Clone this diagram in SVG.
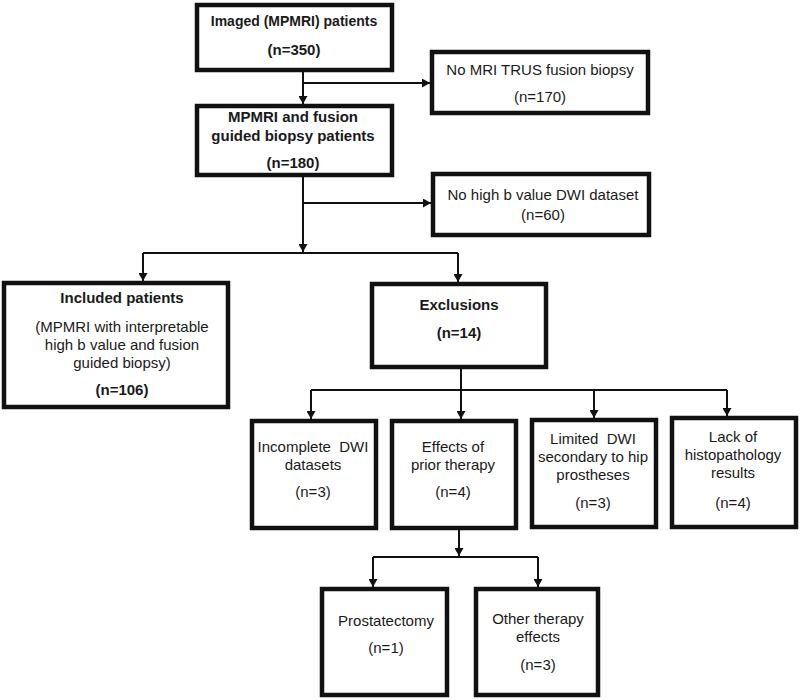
<svg xmlns="http://www.w3.org/2000/svg" width="800" height="700" viewBox="0 0 800 700">
<defs>
<marker id="arr" markerUnits="userSpaceOnUse" markerWidth="9" markerHeight="9" refX="8" refY="4.5" orient="auto">
<path d="M0,0 L8,4.5 L0,9 z" fill="#111"/>
</marker>
<style>
.box{fill:#fff;stroke:#111;stroke-width:4.5}
.c{fill:none;stroke:#111;stroke-width:2}
.a{fill:none;stroke:#111;stroke-width:2;marker-end:url(#arr)}
text{font-family:"Liberation Sans",Arial,sans-serif;font-size:15px;fill:#1a1a1a;text-anchor:middle}
.b{font-weight:bold}
</style>
</defs>
<rect width="800" height="700" fill="#fff"/>
<g id="connectors">
<line class="a" x1="303" y1="70" x2="303" y2="104"/>
<line class="a" x1="303" y1="83" x2="430" y2="83"/>
<line class="a" x1="303" y1="175" x2="303" y2="252"/>
<line class="a" x1="303" y1="203" x2="431" y2="203"/>
<polyline class="c" points="143,253 458,253"/>
<line class="a" x1="143" y1="253" x2="143" y2="281"/>
<line class="a" x1="458" y1="253" x2="458" y2="282"/>
<line class="a" x1="461" y1="367" x2="461" y2="419"/>
<polyline class="c" points="311,390 727,390"/>
<line class="a" x1="311" y1="390" x2="311" y2="419"/>
<line class="a" x1="594" y1="390" x2="594" y2="418"/>
<line class="a" x1="727" y1="390" x2="727" y2="416"/>
<line class="a" x1="459" y1="528" x2="459" y2="556"/>
<polyline class="c" points="373,557 538,557"/>
<line class="a" x1="373" y1="557" x2="373" y2="587"/>
<line class="a" x1="538" y1="557" x2="538" y2="587"/>
</g>
<g id="imaged">
<rect class="box" x="197" y="5" width="195" height="65"/>
<text class="b" x="294" y="26" style="font-size:14px">Imaged (MPMRI) patients</text>
<text class="b" x="294" y="55">(n=350)</text>
</g>
<g id="fusion">
<rect class="box" x="197" y="106" width="195" height="69"/>
<text class="b" x="293" y="122">MPMRI and fusion</text>
<text class="b" x="293" y="141">guided biopsy patients</text>
<text class="b" x="293" y="168">(n=180)</text>
</g>
<g id="nomri">
<rect class="box" x="432" y="52" width="216" height="61"/>
<text x="540" y="75">No MRI TRUS fusion biopsy</text>
<text x="540" y="102">(n=170)</text>
</g>
<g id="nohighb">
<rect class="box" x="433" y="174" width="216" height="61"/>
<text x="543" y="200">No high b value DWI dataset</text>
<text x="543" y="220">(n=60)</text>
</g>
<g id="included">
<rect class="box" x="4" y="283" width="224" height="124"/>
<text class="b" x="122" y="303">Included patients</text>
<text x="122" y="332">(MPMRI with interpretable</text>
<text x="122" y="350">high b value and fusion</text>
<text x="122" y="368">guided biopsy)</text>
<text class="b" x="122" y="395">(n=106)</text>
</g>
<g id="exclusions">
<rect class="box" x="372" y="284" width="174" height="83"/>
<text class="b" x="459" y="310">Exclusions</text>
<text class="b" x="459" y="338">(n=14)</text>
</g>
<g id="incomplete">
<rect class="box" x="252" y="421" width="124" height="107"/>
<text x="313" y="452" xml:space="preserve">Incomplete  DWI</text>
<text x="313" y="470">datasets</text>
<text x="313" y="497">(n=3)</text>
</g>
<g id="effects">
<rect class="box" x="392" y="421" width="124" height="107"/>
<text x="453" y="452">Effects of</text>
<text x="453" y="470">prior therapy</text>
<text x="453" y="497">(n=4)</text>
</g>
<g id="limited">
<rect class="box" x="532" y="420" width="124" height="107"/>
<text x="593" y="444" xml:space="preserve">Limited  DWI</text>
<text x="593" y="462">secondary to hip</text>
<text x="593" y="480">prostheses</text>
<text x="593" y="508">(n=3)</text>
</g>
<g id="lack">
<rect class="box" x="672" y="418" width="124" height="109"/>
<text x="733" y="442">Lack of</text>
<text x="733" y="460">histopathology</text>
<text x="733" y="478">results</text>
<text x="733" y="508">(n=4)</text>
</g>
<g id="prostatectomy">
<rect class="box" x="322" y="589" width="125" height="106"/>
<text x="386" y="626">Prostatectomy</text>
<text x="386" y="653">(n=1)</text>
</g>
<g id="other">
<rect class="box" x="476" y="589" width="122" height="106"/>
<text x="538" y="624">Other therapy</text>
<text x="538" y="642">effects</text>
<text x="538" y="670">(n=3)</text>
</g>
</svg>
